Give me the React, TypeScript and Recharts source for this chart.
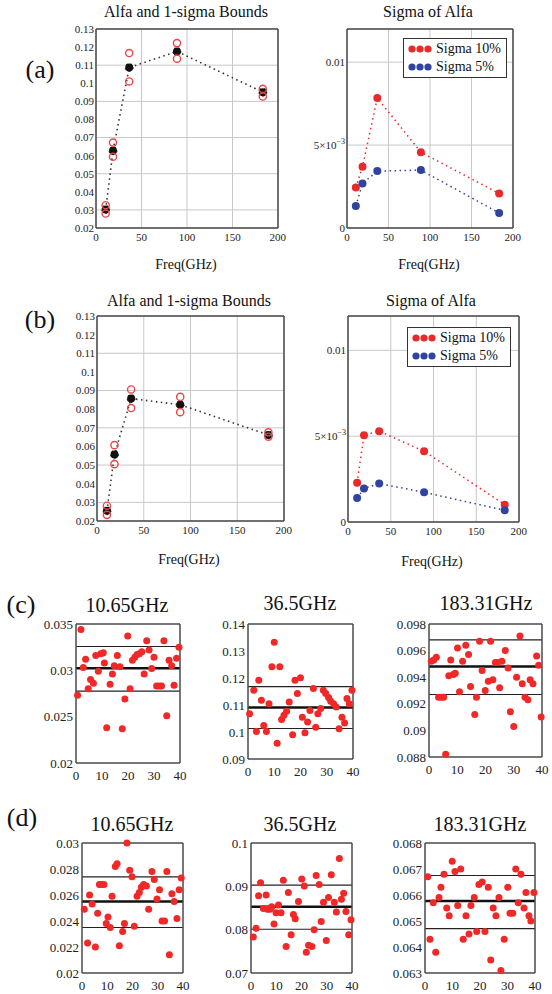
import React from "react";
import {
  LineChart,
  Line,
  ScatterChart,
  Scatter,
  XAxis,
  YAxis,
  CartesianGrid,
  ReferenceLine,
  Legend,
} from "recharts";

const FONT = '"Liberation Serif", "Times New Roman", serif';

// channel frequencies (GHz)
const freqs = [10.65, 18.7, 36.5, 89, 183.31];
const freqTicks = [0, 50, 100, 150, 200];
const alfaTicks = [0.02, 0.03, 0.04, 0.05, 0.06, 0.07, 0.08, 0.09, 0.1, 0.11, 0.12, 0.13];
const sigmaTicks = [0, 0.005, 0.01];

// (a)
const alfaA = [0.0302, 0.0627, 0.1087, 0.1176, 0.0951];
const upperA = [0.0326, 0.0672, 0.1167, 0.1222, 0.0969];
const lowerA = [0.028, 0.0594, 0.101, 0.1136, 0.0927];
const sigma10A = [0.00244, 0.0037, 0.00784, 0.00457, 0.00208];
const sigma5A = [0.00133, 0.00269, 0.00343, 0.00349, 0.00091];

// (b)
const alfaB = [0.0255, 0.0557, 0.0857, 0.0824, 0.0662];
const upperB = [0.0282, 0.0607, 0.0906, 0.0866, 0.0676];
const lowerB = [0.0233, 0.0505, 0.0806, 0.0784, 0.0652];
const sigma10B = [0.00228, 0.00506, 0.00529, 0.00412, 0.00101];
const sigma5B = [0.0014, 0.00195, 0.00224, 0.00173, 0.00068];

// sample index axis
const sampleTicks = [0, 10, 20, 30, 40];

// (c) 10.65 GHz
const c1X = [0.6, 1.9, 2.8, 3.7, 4.7, 5.6, 6.7, 7.6, 8.6, 9.5, 10.5, 10.9, 11.8, 13.1, 14.0, 14.7, 15.9, 16.9, 17.8, 18.8, 19.9, 20.8, 21.7, 22.6, 23.5, 24.4, 25.3, 26.2, 27.2, 28.1, 29.1, 30.0, 31.0, 31.9, 32.9, 33.8, 34.9, 35.8, 36.8, 37.7, 38.7, 39.6];
const c1Y = [0.0273, 0.0344, 0.0303, 0.0312, 0.028, 0.029, 0.0286, 0.0316, 0.0299, 0.0318, 0.0319, 0.0308, 0.0238, 0.0285, 0.0296, 0.0305, 0.0316, 0.0304, 0.0237, 0.0269, 0.0337, 0.028, 0.0311, 0.0314, 0.0317, 0.0318, 0.032, 0.0296, 0.0332, 0.0322, 0.0302, 0.0314, 0.0283, 0.0283, 0.0283, 0.0332, 0.0251, 0.0311, 0.0305, 0.0284, 0.0313, 0.0325];
const c1Lines = [0.03257, 0.03022, 0.02775];

// (c) 36.5 GHz
const c2X = [0.6, 2.2, 3.2, 4.1, 5.1, 6.0, 7.0, 8.0, 9.1, 10.0, 11.1, 12.1, 12.8, 13.7, 14.7, 15.7, 17.0, 17.9, 18.8, 20.0, 20.7, 21.7, 22.7, 23.6, 24.9, 25.8, 26.6, 27.7, 28.7, 29.6, 30.7, 31.5, 32.6, 33.6, 34.7, 35.8, 36.8, 37.7, 38.6, 39.6];
const c2Y = [0.1068, 0.1155, 0.1002, 0.1192, 0.1118, 0.1024, 0.1002, 0.1105, 0.1242, 0.1332, 0.0958, 0.1242, 0.1046, 0.1062, 0.1077, 0.1111, 0.099, 0.1192, 0.1143, 0.1201, 0.1055, 0.0997, 0.1037, 0.108, 0.1161, 0.1018, 0.1068, 0.1087, 0.1155, 0.1143, 0.1128, 0.1114, 0.1105, 0.1093, 0.1012, 0.1055, 0.1033, 0.1124, 0.1105, 0.1155];
const c2Lines = [0.1168, 0.1091, 0.1013];

// (c) 183.31 GHz
const c3X = [0.8, 1.7, 2.6, 3.4, 4.4, 5.2, 5.9, 7.0, 7.7, 8.6, 9.3, 10.1, 10.8, 11.9, 13.0, 14.0, 14.7, 16.2, 16.8, 17.9, 18.8, 19.9, 21.0, 21.8, 22.6, 23.5, 24.2, 25.0, 25.8, 27.0, 28.0, 28.8, 30.0, 31.0, 32.2, 33.0, 34.0, 35.0, 35.8, 36.8, 38.1, 38.8, 39.7];
const c3Y = [0.0952, 0.0953, 0.0955, 0.0925, 0.0925, 0.0925, 0.0882, 0.0941, 0.0953, 0.0942, 0.0943, 0.0962, 0.0929, 0.0952, 0.0964, 0.0957, 0.0933, 0.0912, 0.0925, 0.0967, 0.0945, 0.093, 0.0937, 0.0967, 0.0938, 0.0951, 0.0951, 0.0932, 0.0952, 0.096, 0.0947, 0.0914, 0.0903, 0.094, 0.0971, 0.0935, 0.0925, 0.0923, 0.0938, 0.0935, 0.0956, 0.0949, 0.091];
const c3Lines = [0.0968, 0.0948, 0.0927];

// (d) 10.65 GHz
const d1X = [0.9, 2.2, 3.0, 4.0, 5.3, 6.2, 6.9, 7.8, 8.7, 9.6, 10.3, 11.2, 11.9, 13.2, 13.9, 14.8, 16.1, 16.8, 17.8, 18.9, 19.8, 20.7, 21.8, 22.7, 23.5, 24.4, 25.5, 26.4, 27.7, 28.6, 29.7, 30.7, 31.7, 32.7, 33.6, 34.6, 35.6, 36.5, 37.6, 38.5, 39.3];
const d1Y = [0.0249, 0.0223, 0.026, 0.0253, 0.022, 0.0246, 0.0268, 0.0268, 0.0268, 0.0238, 0.0243, 0.0235, 0.0259, 0.0282, 0.0284, 0.0221, 0.0232, 0.0238, 0.03, 0.0279, 0.0274, 0.0236, 0.0259, 0.0262, 0.0266, 0.0268, 0.0267, 0.0249, 0.0278, 0.0272, 0.0257, 0.0264, 0.024, 0.024, 0.0278, 0.0214, 0.0261, 0.0255, 0.0242, 0.0264, 0.0273];
const d1Lines = [0.0274, 0.0255, 0.0235];

// (d) 36.5 GHz
const d2X = [0.9, 2.0, 3.0, 3.8, 4.9, 6.0, 6.5, 7.5, 8.2, 9.1, 9.9, 10.9, 11.9, 12.8, 13.9, 14.8, 15.9, 16.8, 17.5, 18.8, 20.1, 21.1, 21.9, 22.8, 24.1, 25.0, 25.8, 27.0, 27.8, 28.7, 29.8, 30.7, 31.8, 33.0, 33.8, 35.0, 35.8, 36.7, 37.6, 38.7, 39.6];
const d2Y = [0.0783, 0.0803, 0.0878, 0.0908, 0.0849, 0.088, 0.0847, 0.0847, 0.0853, 0.0813, 0.0839, 0.0857, 0.0839, 0.0914, 0.0761, 0.0886, 0.0788, 0.0835, 0.0825, 0.0865, 0.0917, 0.0901, 0.0748, 0.0764, 0.0761, 0.08, 0.0925, 0.0904, 0.0819, 0.0863, 0.0775, 0.0874, 0.0927, 0.0863, 0.0841, 0.0964, 0.087, 0.0884, 0.0842, 0.0788, 0.0823];
const d2Lines = [0.0903, 0.0853, 0.0801];

// (d) 183.31 GHz
const d3X = [1.0, 1.8, 3.0, 3.9, 5.1, 5.8, 6.9, 7.9, 8.8, 9.9, 10.9, 11.9, 13.0, 13.9, 14.9, 16.0, 16.7, 17.9, 18.8, 19.6, 20.8, 21.8, 23.0, 23.9, 24.8, 25.8, 26.9, 27.6, 28.8, 30.1, 30.9, 31.9, 33.0, 33.9, 34.9, 36.0, 36.7, 37.8, 38.5, 39.6];
const d3Y = [0.0667, 0.0643, 0.0657, 0.0638, 0.0659, 0.0663, 0.0668, 0.0655, 0.0652, 0.0673, 0.0669, 0.0656, 0.067, 0.0643, 0.0652, 0.0645, 0.0656, 0.0659, 0.0646, 0.0664, 0.0665, 0.0646, 0.0663, 0.0635, 0.0655, 0.0652, 0.0659, 0.0631, 0.0643, 0.0663, 0.0653, 0.0653, 0.067, 0.0657, 0.0668, 0.0655, 0.0661, 0.0652, 0.065, 0.0661];
const d3Lines = [0.06675, 0.06577, 0.06471];

type Box = { L: number; T: number; R: number; B: number };

const YW = 46;
const XH = 26;
const MT = 8;
const MR = 8;

function place(b: Box) {
  return {
    style: { position: "absolute" as const, left: b.L - YW, top: b.T - MT },
    width: b.R - b.L + YW + MR,
    height: b.B - b.T + MT + XH,
  };
}

const fmt = (v: number) => String(parseFloat(v.toFixed(4)));
const frameLine = { stroke: "#4a4a4a", strokeWidth: 1.5 };
const smallTick = { fontFamily: FONT, fontSize: 11, fill: "#222" };
const sampleTick = { fontFamily: FONT, fontSize: 13, fill: "#222" };

function Label({ x, y, size, children }: { x: number; y: number; size: number; children: React.ReactNode }) {
  return (
    <div
      style={{
        position: "absolute",
        left: x,
        top: y,
        transform: "translate(-50%, -50%)",
        fontFamily: FONT,
        fontSize: size,
        lineHeight: 1,
        whiteSpace: "nowrap",
        color: "#111",
      }}
    >
      {children}
    </div>
  );
}

function AlfaPanel({ box, alfa, upper, lower }: { box: Box; alfa: number[]; upper: number[]; lower: number[] }) {
  const data = freqs.map((f, i) => ({ f, alfa: alfa[i], up: upper[i], lo: lower[i] }));
  const p = place(box);
  return (
    <div style={p.style}>
      <LineChart width={p.width} height={p.height} data={data} margin={{ top: MT, right: MR, left: 0, bottom: 0 }}>
        <CartesianGrid stroke="#c8c8c8" strokeWidth={1} />
        <XAxis dataKey="f" type="number" domain={[0, 200]} ticks={freqTicks} height={XH} tickLine={false} tickSize={0} tickMargin={5} axisLine={frameLine} tick={smallTick} />
        <YAxis type="number" domain={[0.02, 0.13]} ticks={alfaTicks} width={YW} tickLine={false} tickSize={0} tickMargin={2} axisLine={frameLine} tick={smallTick} tickFormatter={fmt} />
        <XAxis xAxisId="top" orientation="top" mirror type="number" domain={[0, 200]} tick={false} tickLine={false} axisLine={frameLine} />
        <YAxis yAxisId="right" orientation="right" mirror type="number" domain={[0.02, 0.13]} tick={false} tickLine={false} axisLine={frameLine} />
        <Line dataKey="alfa" stroke="#333" strokeWidth={1.6} strokeDasharray="1.5 3.5" dot={{ r: 4, fill: "#111", stroke: "#111", strokeWidth: 1 }} isAnimationActive={false} />
        <Line dataKey="up" stroke="none" dot={{ r: 3.6, fill: "none", stroke: "#e8484a", strokeWidth: 1.4 }} isAnimationActive={false} />
        <Line dataKey="lo" stroke="none" dot={{ r: 3.6, fill: "none", stroke: "#e8484a", strokeWidth: 1.4 }} isAnimationActive={false} />
      </LineChart>
    </div>
  );
}

function SigmaTick(props: any) {
  const { x, y, payload } = props;
  const i = sigmaTicks.indexOf(payload.value);
  return (
    <text x={x} y={y} dy={4} textAnchor="end" fontFamily={FONT} fontSize={11} fill="#222">
      {i === 1 ? (
        <>
          5×10<tspan dy={-5} fontSize={8}>−3</tspan>
        </>
      ) : (
        fmt(payload.value)
      )}
    </text>
  );
}

function SigmaLegend(props: any) {
  const items = props.payload || [];
  return (
    <div style={{ width: 98, border: "1.5px solid #333", background: "#fff", fontFamily: FONT, fontSize: 14, padding: "1px 0 1px 4px", lineHeight: "18px", color: "#111" }}>
      {items.map((it: any) => (
        <div key={it.value} style={{ display: "flex", alignItems: "center" }}>
          <svg width={24} height={10}>
            {[4, 12, 20].map((cx) => (
              <circle key={cx} cx={cx} cy={5} r={3.6} fill={it.color} />
            ))}
          </svg>
          <span style={{ marginLeft: 4 }}>{it.value}</span>
        </div>
      ))}
    </div>
  );
}

function SigmaPanel({ box, s10, s5, legendAt }: { box: Box; s10: number[]; s5: number[]; legendAt: { left: number; top: number } }) {
  const data = freqs.map((f, i) => ({ f, s10: s10[i], s5: s5[i] }));
  const p = place(box);
  return (
    <div style={p.style}>
      <LineChart width={p.width} height={p.height} data={data} margin={{ top: MT, right: MR, left: 0, bottom: 0 }}>
        <CartesianGrid stroke="#c8c8c8" strokeWidth={1} />
        <XAxis dataKey="f" type="number" domain={[0, 200]} ticks={freqTicks} height={XH} tickLine={false} tickSize={0} tickMargin={5} axisLine={frameLine} tick={smallTick} />
        <YAxis type="number" domain={[0, 0.012]} ticks={sigmaTicks} width={YW} tickLine={false} tickSize={0} tickMargin={2} axisLine={frameLine} tick={(t: any) => <SigmaTick {...t} />} />
        <XAxis xAxisId="top" orientation="top" mirror type="number" domain={[0, 200]} tick={false} tickLine={false} axisLine={frameLine} />
        <YAxis yAxisId="right" orientation="right" mirror type="number" domain={[0, 0.012]} tick={false} tickLine={false} axisLine={frameLine} />
        <Line name="Sigma 10%" dataKey="s10" stroke="#e82a2a" strokeWidth={1.5} strokeDasharray="1.5 3.5" dot={{ r: 4, fill: "#e82a2a", stroke: "none" }} isAnimationActive={false} />
        <Line name="Sigma 5%" dataKey="s5" stroke="#2f43a0" strokeWidth={1.5} strokeDasharray="1.5 3.5" dot={{ r: 4, fill: "#2f43a0", stroke: "none" }} isAnimationActive={false} />
        <Legend layout="vertical" align="center" verticalAlign="middle" wrapperStyle={{ left: legendAt.left, top: legendAt.top, width: "auto" }} content={(lp: any) => <SigmaLegend {...lp} />} />
      </LineChart>
    </div>
  );
}

const sampleDot = (s: any) => <circle cx={s.cx} cy={s.cy} r={3.5} fill="#f02828" />;

function SamplePanel({ box, xs, ys, domain, ticks, lines }: { box: Box; xs: number[]; ys: number[]; domain: [number, number]; ticks: number[]; lines: number[] }) {
  const pts = xs.map((x, i) => ({ x, y: ys[i] }));
  const p = place(box);
  return (
    <div style={p.style}>
      <ScatterChart width={p.width} height={p.height} margin={{ top: MT, right: MR, left: 0, bottom: 0 }}>
        <XAxis dataKey="x" type="number" domain={[0, 40]} ticks={sampleTicks} height={XH} tickLine={false} tickSize={0} tickMargin={8} axisLine={frameLine} tick={sampleTick} />
        <YAxis dataKey="y" type="number" domain={domain} ticks={ticks} width={YW} tickLine={false} tickSize={0} tickMargin={3} axisLine={frameLine} tick={sampleTick} tickFormatter={fmt} />
        <XAxis xAxisId="t" orientation="top" mirror type="number" domain={[0, 40]} ticks={[10, 20, 30]} tick={false} tickSize={5} tickLine={{ stroke: "#333", strokeWidth: 1.5 }} axisLine={frameLine} />
        <YAxis yAxisId="r" orientation="right" mirror type="number" domain={domain} ticks={ticks.slice(1, -1)} tick={false} tickSize={5} tickLine={{ stroke: "#333", strokeWidth: 1.5 }} axisLine={frameLine} />
        <ReferenceLine y={lines[0]} stroke="#222" strokeWidth={1.2} />
        <ReferenceLine y={lines[1]} stroke="#111" strokeWidth={2.4} />
        <ReferenceLine y={lines[2]} stroke="#222" strokeWidth={1.2} />
        <Scatter data={pts} dataKey="y" shape={sampleDot} isAnimationActive={false} />
      </ScatterChart>
    </div>
  );
}

export default function App() {
  return (
    <div style={{ position: "absolute", left: 0, top: 0, width: 552, height: 994, background: "#fff", overflow: "hidden" }}>
      {/* row (a) */}
      <Label x={40} y={70} size={26}>(a)</Label>
      <Label x={186} y={12} size={16}>Alfa and 1-sigma Bounds</Label>
      <Label x={428} y={12} size={16}>Sigma of Alfa</Label>
      <AlfaPanel box={{ L: 96, T: 29, R: 278, B: 228 }} alfa={alfaA} upper={upperA} lower={lowerA} />
      <SigmaPanel box={{ L: 347, T: 29, R: 513, B: 228 }} s10={sigma10A} s5={sigma5A} legendAt={{ left: 102, top: 17 }} />
      <Label x={186} y={265} size={14}>Freq(GHz)</Label>
      <Label x={429} y={265} size={14}>Freq(GHz)</Label>

      {/* row (b) */}
      <Label x={40} y={320} size={26}>(b)</Label>
      <Label x={189} y={301} size={16}>Alfa and 1-sigma Bounds</Label>
      <Label x={431} y={301} size={16}>Sigma of Alfa</Label>
      <AlfaPanel box={{ L: 97, T: 316, R: 284, B: 521 }} alfa={alfaB} upper={upperB} lower={lowerB} />
      <SigmaPanel box={{ L: 348, T: 316, R: 519, B: 522 }} s10={sigma10B} s5={sigma5B} legendAt={{ left: 105, top: 19 }} />
      <Label x={189} y={560} size={14}>Freq(GHz)</Label>
      <Label x={432} y={562} size={14}>Freq(GHz)</Label>

      {/* row (c) */}
      <Label x={21} y={605} size={26}>(c)</Label>
      <Label x={127} y={605} size={20}>10.65GHz</Label>
      <Label x={300} y={603} size={20}>36.5GHz</Label>
      <Label x={486} y={603} size={20}>183.31GHz</Label>
      <SamplePanel box={{ L: 76, T: 624, R: 180, B: 763 }} xs={c1X} ys={c1Y} domain={[0.02, 0.035]} ticks={[0.02, 0.025, 0.03, 0.035]} lines={c1Lines} />
      <SamplePanel box={{ L: 248, T: 624, R: 353, B: 759 }} xs={c2X} ys={c2Y} domain={[0.09, 0.14]} ticks={[0.09, 0.1, 0.11, 0.12, 0.13, 0.14]} lines={c2Lines} />
      <SamplePanel box={{ L: 429, T: 624, R: 542, B: 757 }} xs={c3X} ys={c3Y} domain={[0.088, 0.098]} ticks={[0.088, 0.09, 0.092, 0.094, 0.096, 0.098]} lines={c3Lines} />

      {/* row (d) */}
      <Label x={22} y={818} size={26}>(d)</Label>
      <Label x={132} y={824} size={20}>10.65GHz</Label>
      <Label x={300} y={824} size={20}>36.5GHz</Label>
      <Label x={480} y={824} size={20}>183.31GHz</Label>
      <SamplePanel box={{ L: 82, T: 843, R: 183, B: 973 }} xs={d1X} ys={d1Y} domain={[0.02, 0.03]} ticks={[0.02, 0.022, 0.024, 0.026, 0.028, 0.03]} lines={d1Lines} />
      <SamplePanel box={{ L: 251, T: 843, R: 352, B: 973 }} xs={d2X} ys={d2Y} domain={[0.07, 0.1]} ticks={[0.07, 0.08, 0.09, 0.1]} lines={d2Lines} />
      <SamplePanel box={{ L: 425, T: 843, R: 535, B: 973 }} xs={d3X} ys={d3Y} domain={[0.063, 0.068]} ticks={[0.063, 0.064, 0.065, 0.066, 0.067, 0.068]} lines={d3Lines} />
    </div>
  );
}
